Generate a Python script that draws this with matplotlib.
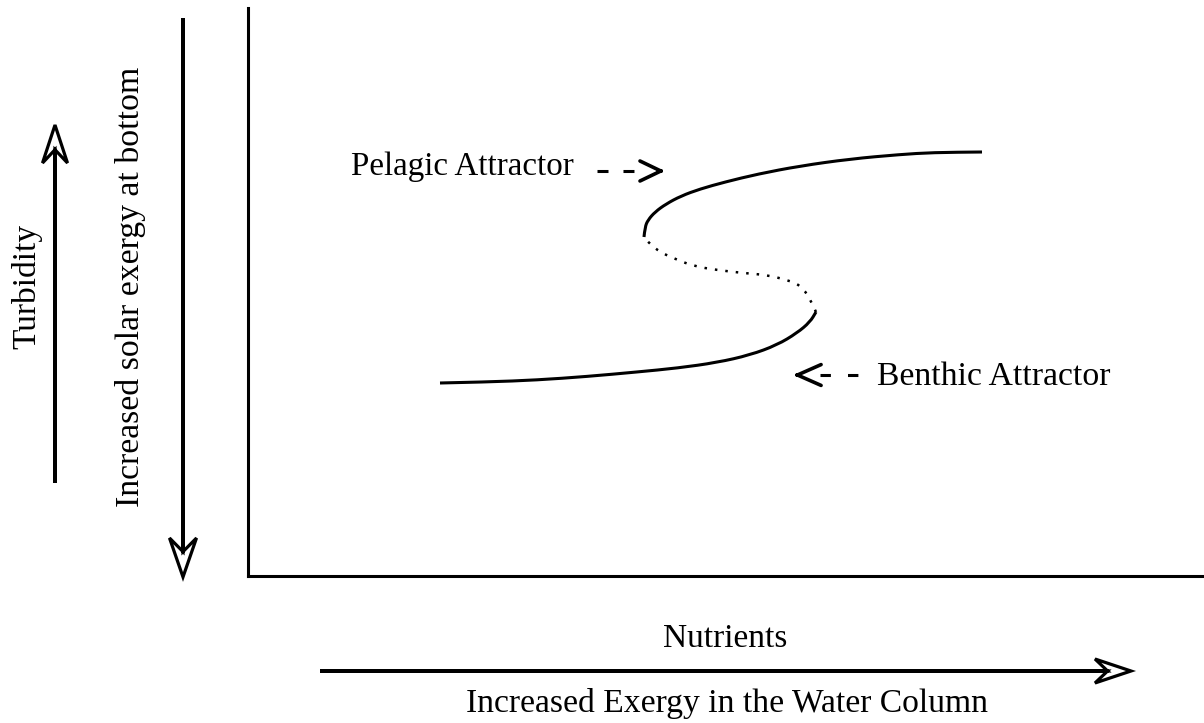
#!/usr/bin/env python3
"""Schematic: benthic / pelagic alternative attractors vs nutrients."""

import matplotlib

matplotlib.use("Agg")
import matplotlib.pyplot as plt
from matplotlib.patches import FancyArrow, PathPatch
from matplotlib.path import Path

INK = "black"
SERIF = "Liberation Serif"

# curve (axes units, origin at the corner of the axes)
lower_x = [192, 239, 289, 339, 389, 430, 469, 502, 529, 549, 562, 568]
lower_y = [193, 194, 196, 199.5, 204, 208, 213.5, 221, 231, 243, 254, 264]
middle_x = [568, 562, 552, 539, 519, 495, 469, 445, 425, 412, 402, 396]
middle_y = [264, 278, 291, 296, 301, 303, 306, 310, 318, 324, 332, 339]
upper_x = [396, 397, 400, 407, 418, 433, 452, 477, 510, 552, 602, 652, 685, 734]
upper_y = [339, 349, 356, 364, 372, 380, 387, 394, 402, 410, 417, 421.5, 423.5, 424]

y_labels = ["Turbidity", "Increased solar exergy at bottom"]
x_labels = ["Nutrients", "Increased Exergy in the Water Column"]
attractors = ["Pelagic Attractor", "Benthic Attractor"]

plt.rcParams["font.family"] = SERIF

fig = plt.figure(figsize=(12.04, 7.23), dpi=100)

# overlay in pixel units for the arrows and labels outside the frame
over = fig.add_axes([0, 0, 1, 1])
over.set_xlim(0, 1204)
over.set_ylim(723, 0)
over.axis("off")


def big_arrow(x0, y0, x1, y1, hl, hw):
    over.add_patch(
        FancyArrow(
            x0, y0, x1 - x0, y1 - y0,
            width=0, head_length=hl, head_width=hw, overhang=0.35,
            length_includes_head=True, fc="white", ec=INK, lw=2.3,
            joinstyle="miter",
        )
    )


def smooth(xs, ys):
    # quadratic bezier through the midpoints, read points as controls
    pts = list(zip(xs, ys))
    verts = [pts[0]]
    codes = [Path.MOVETO]
    for i in range(1, len(pts) - 1):
        mid = ((pts[i][0] + pts[i + 1][0]) / 2, (pts[i][1] + pts[i + 1][1]) / 2)
        verts += [pts[i], mid]
        codes += [Path.CURVE3, Path.CURVE3]
    verts.append(pts[-1])
    codes.append(Path.LINETO)
    return Path(verts, codes)


big_arrow(55, 483, 55, 125, 38, 25)
big_arrow(183, 18, 183, 577, 39, 27)
big_arrow(320, 671, 1131, 671, 36, 24)

over.text(27, 286, y_labels[0], rotation=90, ha="center", va="center", fontsize=24)
over.text(131, 287, y_labels[1], rotation=90, ha="center", va="center", fontsize=24.3)
over.text(725, 647, x_labels[0], ha="center", va="baseline", fontsize=24)
over.text(727, 712, x_labels[1], ha="center", va="baseline", fontsize=24.2)

# main frame
ax = fig.add_axes([248 / 1204, 147 / 723, 956 / 1204, 568 / 723])
ax.set_facecolor("none")
ax.set_xlim(0, 956)
ax.set_ylim(0, 568)
for side in ("top", "right"):
    ax.spines[side].set_visible(False)
for side in ("left", "bottom"):
    ax.spines[side].set_linewidth(2.2)
    ax.spines[side].set_capstyle("projecting")
ax.set_xticks([])
ax.set_yticks([])

ax.add_patch(PathPatch(smooth(lower_x, lower_y), fill=False, ec=INK, lw=2.2, capstyle="butt"))
ax.add_patch(PathPatch(smooth(upper_x, upper_y), fill=False, ec=INK, lw=2.2, capstyle="butt"))
ax.add_patch(PathPatch(smooth(middle_x, middle_y), fill=False, ec=INK, lw=1.8,
                       linestyle=(0, (1, 3.2))))

# pelagic pointer
ax.text(103, 401, attractors[0], ha="left", va="baseline", fontsize=23.8)
ax.plot([349, 387], [405, 405], color=INK, lw=2.2, dashes=(3.6, 4.9))
ax.annotate(
    "", xy=(417, 405), xytext=(410, 405),
    arrowprops=dict(arrowstyle="->,head_length=1.5,head_width=0.72",
                    color=INK, lw=2.6, shrinkA=0, shrinkB=0),
)

# benthic pointer
ax.text(629, 191, attractors[1], ha="left", va="baseline", fontsize=24.3)
ax.plot([572, 612], [201, 201], color=INK, lw=2.2, dashes=(3.4, 5.6))
ax.annotate(
    "", xy=(545, 201), xytext=(552, 201),
    arrowprops=dict(arrowstyle="->,head_length=1.7,head_width=0.75",
                    color=INK, lw=2.6, shrinkA=0, shrinkB=0),
)

fig.savefig("out.png", dpi=100, facecolor="white")
